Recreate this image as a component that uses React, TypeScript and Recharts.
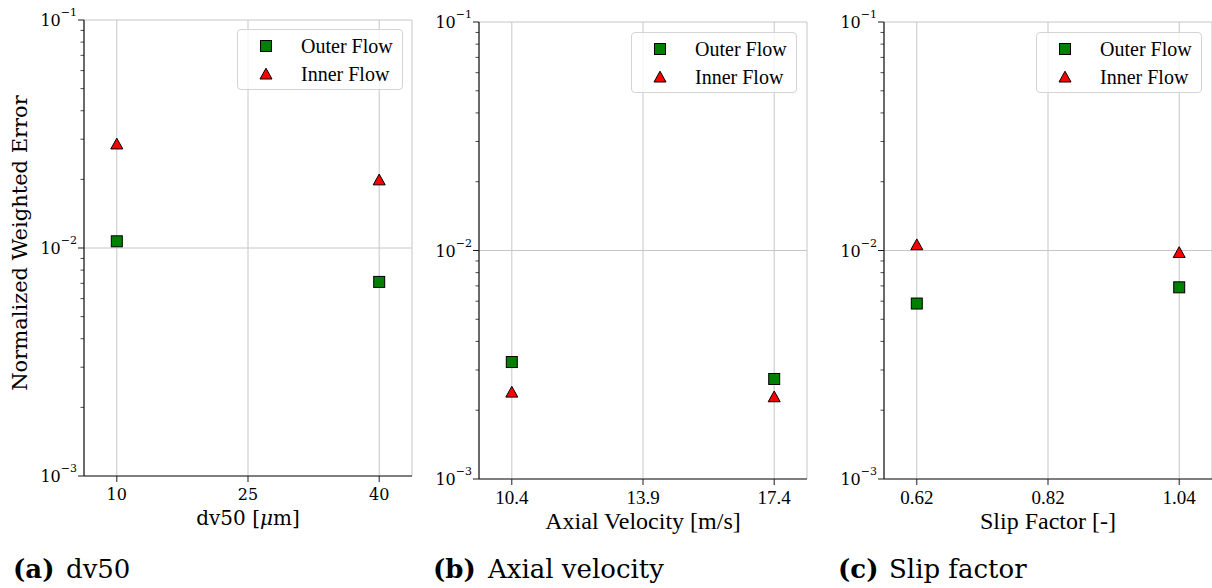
import React from 'react';
import {
  ScatterChart,
  Scatter,
  XAxis,
  YAxis,
  CartesianGrid,
  Legend,
  Label,
} from 'recharts';

// 每个子图的类别（等距摆放）与两组数值；中间类别没有测点
const dv50Ticks = ['10', '25', '40'];
const dv50Outer = [0.0107, null, 0.0071];
const dv50Inner = [0.0286, null, 0.0199];

const velocityTicks = ['10.4', '13.9', '17.4'];
const velocityOuter = [0.00325, null, 0.00274];
const velocityInner = [0.0024, null, 0.00229];

const slipTicks = ['0.62', '0.82', '1.04'];
const slipOuter = [0.00586, null, 0.0069];
const slipInner = [0.0106, null, 0.0098];

const seriesNames = ['Outer Flow', 'Inner Flow'];

const yMajorTicks = [0.001, 0.01, 0.1];
const yMinorSteps = [2, 3, 4, 5, 6, 7, 8, 9];
const yTicks = [
  ...yMajorTicks,
  ...yMajorTicks.slice(0, 2).flatMap(m => yMinorSteps.map(s => s * m)),
].sort((a, b) => a - b);

const CM = '"DejaVu Serif", serif';
const CAMBRIA = '"Liberation Serif", serif';
const GRID = '#c6c6c6';
const SPINE = '#1a1a1a';

type Val = number | null;

const toPoints = (vals: Val[]) =>
  vals
    .map((v, i) => (v == null ? null : { x: i, y: v }))
    .filter(Boolean) as { x: number; y: number }[];

const Square = ({ cx, cy }: { cx: number; cy: number }) => (
  <rect x={cx - 5.5} y={cy - 5.5} width={11} height={11} fill="#008000" stroke="#000" strokeWidth={1} />
);

const Triangle = ({ cx, cy }: { cx: number; cy: number }) => (
  <polygon
    points={`${cx},${cy - 5.8} ${cx - 6},${cy + 5} ${cx + 6},${cy + 5}`}
    fill="#ff0000"
    stroke="#000"
    strokeWidth={1}
  />
);

const markers: Record<string, typeof Square> = {
  'Outer Flow': Square,
  'Inner Flow': Triangle,
};

const LogTick = (props: any) => {
  const { x, y, payload } = props;
  const lg = Math.log10(payload.value);
  const exp = Math.round(lg);
  const major = Math.abs(lg - exp) < 1e-6;
  return (
    <g>
      <line x1={x} x2={x - (major ? 6 : 3.5)} y1={y} y2={y} stroke={SPINE} strokeWidth={major ? 1 : 0.8} />
      {major && (
        <text x={x - 7} y={y + 6} textAnchor="end" fontFamily={CM} fill="#000">
          <tspan fontSize={16}>10</tspan>
          <tspan fontSize={11} dy={-10}>{`−${-exp}`}</tspan>
        </text>
      )}
    </g>
  );
};

const makeXTick = (labels: string[], font: string, size: number) => (props: any) => {
  const { x, y, payload } = props;
  return (
    <g>
      <line x1={x} x2={x} y1={y} y2={y + 6} stroke={SPINE} strokeWidth={1} />
      <text x={x} y={y + 18} textAnchor="middle" dominantBaseline="central" fontFamily={font} fontSize={size} fill="#000">
        {labels[payload.value]}
      </text>
    </g>
  );
};

const legendContent = (props: any) => {
  const payload = [...(props.payload || [])].sort(
    (a: any, b: any) => seriesNames.indexOf(a.value) - seriesNames.indexOf(b.value)
  );
  return (
    <div
      style={{
        width: 166,
        height: 61,
        boxSizing: 'border-box',
        border: '1px solid #d4d4d4',
        borderRadius: 4,
        background: 'rgba(255,255,255,0.8)',
        position: 'relative',
        fontFamily: CAMBRIA,
        fontSize: 20,
        color: '#000',
      }}
    >
      {payload.map((p: any, i: number) => {
        const Mark = markers[p.value] || Square;
        return (
          <div
            key={p.value}
            style={{ position: 'absolute', left: 0, top: 2 + i * 28, height: 28, display: 'flex', alignItems: 'center' }}
          >
            <svg width={56} height={28} style={{ display: 'block' }}>
              <Mark cx={28} cy={14} />
            </svg>
            <span style={{ marginLeft: 7, lineHeight: '28px' }}>{p.value}</span>
          </div>
        );
      })}
    </div>
  );
};

interface PanelProps {
  left: number;
  width: number;
  yAxisWidth: number;
  top: number;
  xAxisHeight: number;
  right: number;
  ticks: string[];
  outer: Val[];
  inner: Val[];
  xLabel: React.ReactNode;
  tickFont: string;
  tickSize: number;
  yLabel?: boolean;
  legendLeft: number;
  legendTop: number;
}

const Panel: React.FC<PanelProps> = p => (
  <div style={{ position: 'absolute', left: p.left, top: 0 }}>
    <ScatterChart
      width={p.width}
      height={588}
      margin={{ top: p.top, right: p.right, left: 0, bottom: 0 }}
    >
      <CartesianGrid stroke={GRID} strokeWidth={1} horizontalValues={yMajorTicks} />
      <XAxis
        type="number"
        dataKey="x"
        domain={[-0.25, 2.25]}
        ticks={[0, 1, 2]}
        interval={0}
        height={p.xAxisHeight}
        tickSize={0}
        tickMargin={0}
        tickLine={false}
        axisLine={{ stroke: SPINE, strokeWidth: 1.2 }}
        tick={makeXTick(p.ticks, p.tickFont, p.tickSize)}
      >
        <Label
          content={(lp: any) => {
            const vb = lp.viewBox;
            return (
              <text
                x={vb.x + vb.width / 2}
                y={vb.y + 42}
                textAnchor="middle"
                dominantBaseline="central"
                fill="#000"
              >
                {p.xLabel}
              </text>
            );
          }}
        />
      </XAxis>
      <YAxis
        type="number"
        dataKey="y"
        scale="log"
        domain={[0.001, 0.1]}
        allowDataOverflow
        ticks={yTicks}
        interval={0}
        width={p.yAxisWidth}
        tickSize={0}
        tickMargin={0}
        tickLine={false}
        axisLine={{ stroke: SPINE, strokeWidth: 1.2 }}
        tick={LogTick}
      >
        {p.yLabel && (
          <Label
            content={(lp: any) => {
              const vb = lp.viewBox;
              const cy = vb.y + vb.height / 2 - 5;
              return (
                <text
                  x={20}
                  y={cy}
                  transform={`rotate(-90 20 ${cy})`}
                  textAnchor="middle"
                  dominantBaseline="central"
                  fontFamily={CM}
                  fontSize={21}
                  fill="#000"
                >
                  Normalized Weighted Error
                </text>
              );
            }}
          />
        )}
      </YAxis>
      <Legend
        layout="horizontal"
        verticalAlign="middle"
        align="center"
        content={legendContent}
        wrapperStyle={{ left: p.legendLeft, top: p.legendTop, width: 166, height: 61 }}
      />
      <Scatter
        name={seriesNames[0]}
        data={toPoints(p.outer)}
        fill="#008000"
        isAnimationActive={false}
        shape={(sp: any) => <Square cx={sp.cx} cy={sp.cy} />}
      />
      <Scatter
        name={seriesNames[1]}
        data={toPoints(p.inner)}
        fill="#ff0000"
        isAnimationActive={false}
        shape={(sp: any) => <Triangle cx={sp.cx} cy={sp.cy} />}
      />
    </ScatterChart>
  </div>
);

export default function App() {
  return (
    <div
      style={{
        position: 'absolute',
        left: 0,
        top: 0,
        width: 1212,
        height: 588,
        background: '#fff',
        overflow: 'hidden',
      }}
    >
      <Panel
        left={0}
        width={420}
        yAxisWidth={84}
        top={20}
        xAxisHeight={112}
        right={8}
        ticks={dv50Ticks}
        outer={dv50Outer}
        inner={dv50Inner}
        tickFont={CM}
        tickSize={16}
        yLabel
        legendLeft={237}
        legendTop={29}
        xLabel={
          <tspan fontFamily={CM} fontSize={20}>
            dv50 [<tspan fontStyle="italic">μ</tspan>m]
          </tspan>
        }
      />
      <Panel
        left={420}
        width={400}
        yAxisWidth={59}
        top={22}
        xAxisHeight={109}
        right={13}
        ticks={velocityTicks}
        outer={velocityOuter}
        inner={velocityInner}
        tickFont={CAMBRIA}
        tickSize={19}
        legendLeft={211}
        legendTop={32}
        xLabel={
          <tspan fontFamily={CAMBRIA} fontSize={24}>
            Axial Velocity [m/s]
          </tspan>
        }
      />
      <Panel
        left={820}
        width={392}
        yAxisWidth={64}
        top={22}
        xAxisHeight={109}
        right={0}
        ticks={slipTicks}
        outer={slipOuter}
        inner={slipInner}
        tickFont={CAMBRIA}
        tickSize={19}
        legendLeft={216}
        legendTop={32}
        xLabel={
          <tspan fontFamily={CAMBRIA} fontSize={24}>
            Slip Factor [-]
          </tspan>
        }
      />
      <svg width={1212} height={588} style={{ position: 'absolute', left: 0, top: 0, pointerEvents: 'none' }}>
        <g fontFamily={CM} fontSize={26} fill="#000">
          <text x={13} y={578} fontWeight="bold">(a)</text>
          <text x={66} y={578}>dv50</text>
          <text x={433} y={578} fontWeight="bold">(b)</text>
          <text x={488} y={578}>Axial velocity</text>
          <text x={838} y={578} fontWeight="bold">(c)</text>
          <text x={889} y={578}>Slip factor</text>
        </g>
      </svg>
    </div>
  );
}
